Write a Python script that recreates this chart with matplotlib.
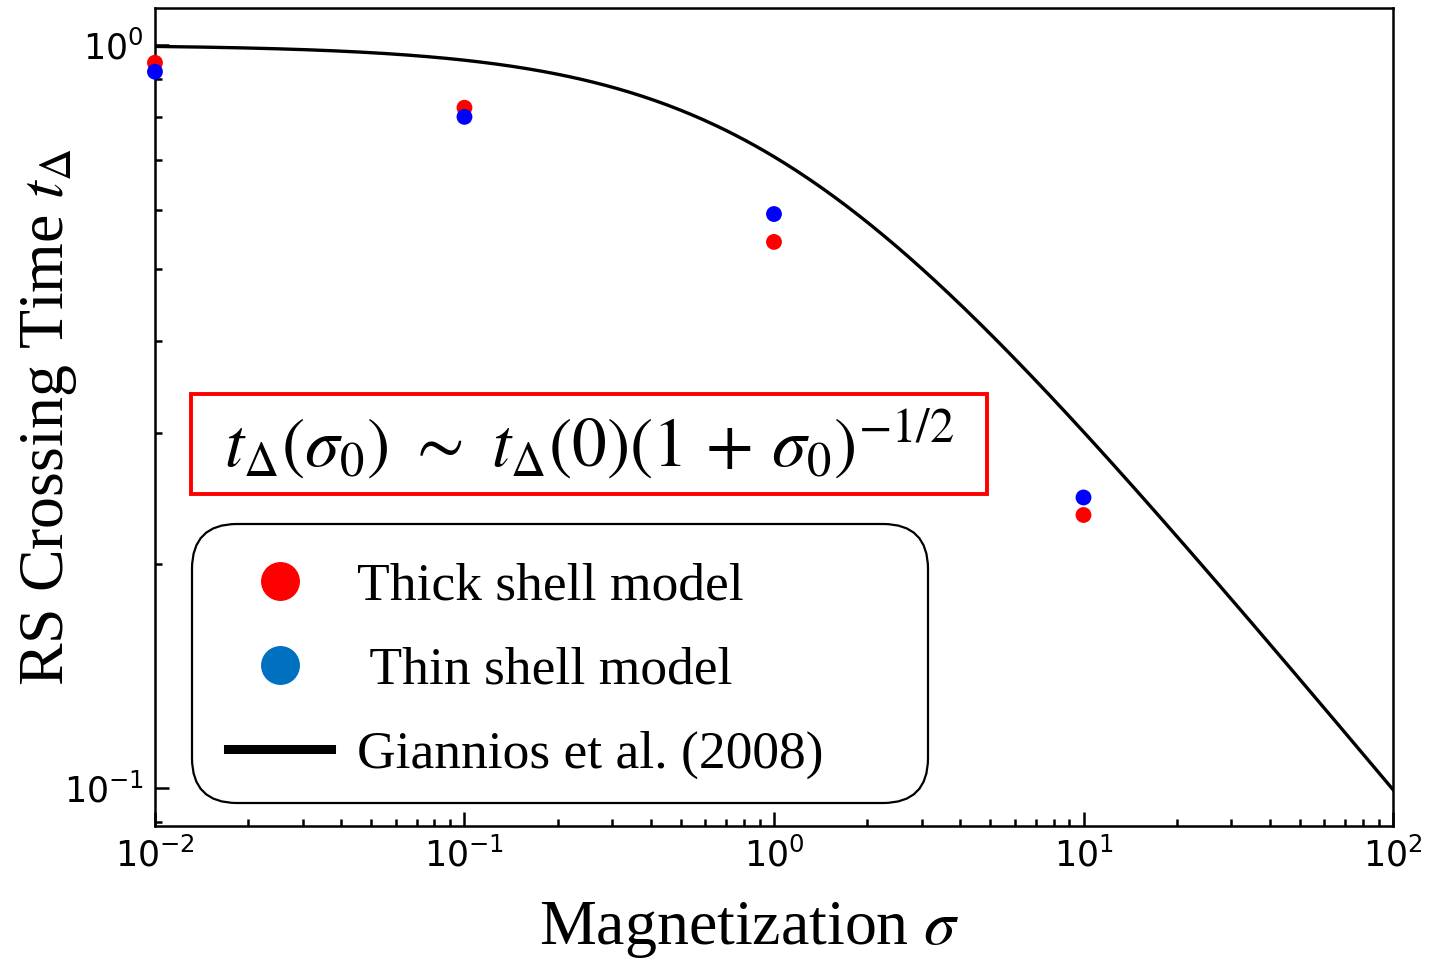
import matplotlib
matplotlib.use('Agg')
import matplotlib.pyplot as plt
import numpy as np
from matplotlib.lines import Line2D
from matplotlib.patches import Rectangle, FancyBboxPatch

# magnetization values and reverse-shock crossing times
sigma = [0.01, 0.1, 1.0, 10.0]
t_thick = [0.946, 0.823, 0.543, 0.233]
t_thin = [0.920, 0.800, 0.592, 0.246]

# Giannios et al. (2008) scaling t(sigma) = t(0) (1 + sigma)^(-1/2)
sigma_curve = np.logspace(-2, 2, 400)
t_curve = (1 + sigma_curve) ** -0.5

serif = ['Liberation Serif', 'DejaVu Serif']

fig = plt.figure(figsize = (14.55, 9.59), dpi = 100)
ax = fig.add_axes([0.1065, 0.1387, 0.8509, 0.853])

ax.plot(sigma_curve, t_curve, color = 'k', linewidth = 2.4, zorder = 2)
ax.scatter(sigma, t_thick, s = 130, color = 'red', edgecolors = 'none', zorder = 3, clip_on = False)
ax.scatter(sigma, t_thin, s = 130, color = 'blue', edgecolors = 'none', zorder = 4, clip_on = False)

ax.set_xscale('log')
ax.set_yscale('log')
ax.set_xlim(1e-2, 1e2)
ax.set_ylim(0.0889, 1.121)

for side in ['left', 'bottom', 'top', 'right']:
    ax.spines[side].set_linewidth(1.8)
ax.tick_params(which = 'both', direction = 'in', labelsize = 25, width = 1.8)
ax.tick_params(which = 'major', length = 10, pad = 8)
ax.tick_params(which = 'minor', length = 5)

ax.set_xlabel('Magnetization $\\sigma$', fontsize = 46, family = serif)
ax.set_ylabel('RS Crossing Time $t_\\Delta$', fontsize = 46, family = serif)
ax.xaxis.label.set_math_fontfamily('stix')
ax.yaxis.label.set_math_fontfamily('stix')
ax.xaxis.set_label_coords(0.48, -0.0905)
ax.yaxis.set_label_coords(-0.061, 0.5)

# scaling relation inside a red box
ax.add_patch(Rectangle((0.029, 0.406), 0.643, 0.122, transform = ax.transAxes,
                       facecolor = 'white', edgecolor = 'red', linewidth = 2.8, zorder = 5))
ax.text(0.351, 0.467,
        '$t_\\Delta(\\sigma_0)\\ \\sim\\ t_\\Delta(0)(1\\,+\\,\\sigma_0)^{-1/2}$',
        transform = ax.transAxes, fontsize = 50, va = 'center', ha = 'center',
        math_fontfamily = 'stix', zorder = 6)

# rounded legend frame, drawn in inches so the corners stay circular
ax.add_artist(FancyBboxPatch((1.92 + 0.45, 1.56 + 0.45), 7.36 - 0.9, 2.79 - 0.9,
                             boxstyle = 'round,pad=0.45', transform = fig.dpi_scale_trans,
                             facecolor = 'white', edgecolor = 'k', linewidth = 1.6, zorder = 5))

handles = [
    Line2D([], [], linestyle = 'none', marker = 'o', markersize = 27, color = 'red'),
    Line2D([], [], linestyle = 'none', marker = 'o', markersize = 27, color = '#0070C0'),
    Line2D([], [], color = 'k', linewidth = 6.5),
]
labels = ['Thick shell model', ' Thin shell model', 'Giannios et al. (2008)']
leg = ax.legend(handles, labels, loc = 'center left', bbox_to_anchor = (2.28, 2.885),
                bbox_transform = fig.dpi_scale_trans,
                prop = {'family': serif, 'size': 38.5}, frameon = False,
                handlelength = 1.93, handletextpad = 0.48, labelspacing = 0.66,
                borderpad = 0, borderaxespad = 0)
leg.set_zorder(6)

fig.savefig('out.png', dpi = 100)
